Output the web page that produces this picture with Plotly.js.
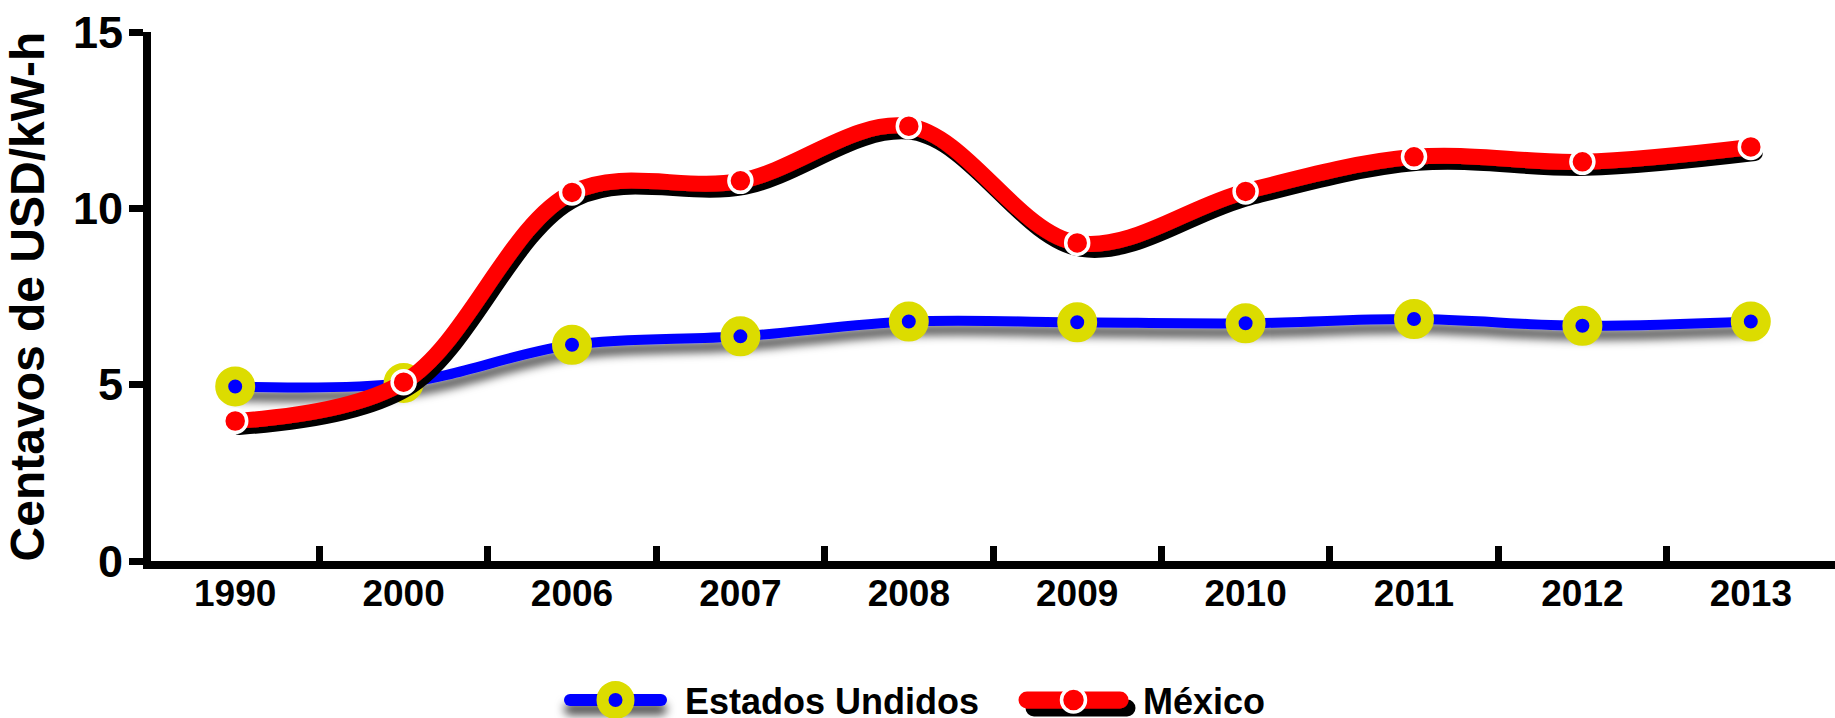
<!DOCTYPE html>
<html>
<head>
<meta charset="utf-8">
<script src="https://cdn.plot.ly/plotly-3.0.1.min.js"></script>
<style>
  html, body { margin: 0; padding: 0; background: #ffffff; }
  #chart { width: 1835px; height: 718px; }
</style>
</head>
<body>
<div id="chart"></div>
<script>
// ---- data ----
const years = ["1990", "2000", "2006", "2007", "2008", "2009", "2010", "2011", "2012", "2013"];
const estadosUnidos = [4.95, 5.05, 6.13, 6.37, 6.79, 6.77, 6.74, 6.86, 6.67, 6.79];
const mexico = [3.97, 5.07, 10.45, 10.78, 12.33, 9.02, 10.48, 11.46, 11.32, 11.74];
const seriesNames = ["Estados Undidos", "México"];
const yTicks = [0, 5, 10, 15];
const yTitle = "Centavos de USD/kW-h";

const FONT = "'Liberation Sans', Arial, Helvetica, sans-serif";

const traces = [
  {
    x: years, y: estadosUnidos, name: seriesNames[0],
    type: "scatter", mode: "lines+markers",
    line: { color: "#0000ff", width: 10, shape: "spline", smoothing: 1 },
    marker: { symbol: "circle", color: "#0000ff", size: 27, line: { color: "#dcdc00", width: 13 } },
    cliponaxis: false
  },
  {
    x: years, y: mexico, name: seriesNames[1],
    type: "scatter", mode: "lines+markers",
    line: { color: "#ff0000", width: 16, shape: "spline", smoothing: 1 },
    marker: { symbol: "circle", color: "#ff0000", size: 23, line: { color: "#ffffff", width: 3.5 } },
    cliponaxis: false
  }
];

const layout = {
  width: 1835, height: 718,
  paper_bgcolor: "#ffffff", plot_bgcolor: "#ffffff",
  margin: { l: 151, r: 0, t: 32, b: 157, pad: 0 },
  font: { family: FONT, color: "#000000" },
  showlegend: true,
  legend: {
    orientation: "h", xref: "container", yref: "container",
    x: 0.5, xanchor: "center", y: 0.025, yanchor: "middle",
    font: { family: FONT, size: 36, color: "#000000", weight: "bold" },
    itemwidth: 90, itemsizing: "trace", traceorder: "normal",
    entrywidth: 457, entrywidthmode: "pixels",
    bgcolor: "rgba(0,0,0,0)"
  },
  xaxis: {
    type: "category", range: [-0.5, 9.5], fixedrange: true,
    showline: true, linecolor: "#000000", linewidth: 8,
    ticks: "inside", tickson: "boundaries", ticklen: 15, tickwidth: 7, tickcolor: "#000000",
    showgrid: false, zeroline: false, ticklabelstandoff: -7,
    tickfont: { family: FONT, size: 37, color: "#000000", weight: "bold" }
  },
  yaxis: {
    range: [0, 15], fixedrange: true,
    tickvals: yTicks, ticktext: yTicks.map(String),
    showline: true, linecolor: "#000000", linewidth: 8,
    ticks: "outside", ticklen: 14, tickwidth: 7, tickcolor: "#000000",
    showgrid: false, zeroline: false, ticklabelstandoff: -3,
    tickfont: { family: FONT, size: 45, color: "#000000", weight: "bold" },
    title: { text: yTitle, standoff: 16, font: { family: FONT, size: 48, color: "#000000", weight: "bold" } }
  }
};

// legend item geometry (page pixels): line start, line length, marker radius/stroke, line width, text offset
const legendGeom = [
  { x0: 570, len: 91, r: 13, sw: 12, lw: 12, tx: 115 },
  { x0: 1027, len: 93, r: 12, sw: 3.5, lw: 17, tx: 116 }
];
const legendCenterY = 700;

const gd = document.getElementById("chart");
Plotly.newPlot(gd, traces, layout, { staticPlot: true, displayModeBar: false }).then(function () {
  const NS = "http://www.w3.org/2000/svg";
  const svg = gd.querySelector(".main-svg");
  const defs = document.createElementNS(NS, "defs");
  function makeFilter(id, dx, dy, blur, color, opacity) {
    const f = document.createElementNS(NS, "filter");
    f.setAttribute("id", id);
    f.setAttribute("filterUnits", "userSpaceOnUse");
    f.setAttribute("x", "-2000"); f.setAttribute("y", "-2000");
    f.setAttribute("width", "6000"); f.setAttribute("height", "4000");
    const s = document.createElementNS(NS, "feDropShadow");
    s.setAttribute("dx", dx); s.setAttribute("dy", dy);
    s.setAttribute("stdDeviation", blur);
    s.setAttribute("flood-color", color); s.setAttribute("flood-opacity", opacity);
    f.appendChild(s);
    defs.appendChild(f);
  }
  makeFilter("usShadow", 0, 9, 5, "#000000", 0.7);
  makeFilter("mxShadow", 4, 6, 0, "#000000", 1);
  makeFilter("mxShadowLeg", 7, 8, 0, "#000000", 1);
  svg.insertBefore(defs, svg.firstChild);

  const filters = ["url(#usShadow)", "url(#mxShadow)"];
  const legFilters = ["url(#usShadow)", "url(#mxShadowLeg)"];
  gd.querySelectorAll(".scatterlayer .trace").forEach(function (t, i) {
    t.querySelectorAll(".js-line").forEach(function (p) {
      p.setAttribute("filter", filters[i]);
      p.style.strokeLinecap = "round";
    });
  });

  function circlePath(r) {
    return "M" + r + ",0A" + r + "," + r + " 0 1,1 0,-" + r + "A" + r + "," + r + " 0 0,1 " + r + ",0Z";
  }
  const rect = svg.getBoundingClientRect();
  gd.querySelectorAll(".legend .traces").forEach(function (item, i) {
    const g = legendGeom[i];
    if (!g) return;
    const m = item.parentNode.getScreenCTM();
    const lx = (g.x0 + rect.left) - m.e;
    const ly = (legendCenterY + rect.top) - m.f;
    item.setAttribute("transform", "translate(" + lx + "," + ly + ")");
    item.querySelectorAll(".legendlines path").forEach(function (p) {
      p.setAttribute("d", "M0,0h" + g.len);
      p.setAttribute("filter", legFilters[i]);
      p.style.strokeLinecap = "round";
      p.style.strokeWidth = g.lw + "px";
    });
    item.querySelectorAll(".legendpoints path").forEach(function (p) {
      p.setAttribute("d", circlePath(g.r));
      p.setAttribute("transform", "translate(" + (g.len / 2) + ",0)");
      p.style.strokeWidth = g.sw + "px";
    });
    item.querySelectorAll(".legendtext").forEach(function (t) {
      t.setAttribute("x", g.tx);
      t.querySelectorAll("tspan").forEach(function (s) { if (s.hasAttribute("x")) s.setAttribute("x", g.tx); });
    });
  });

  // enlarge the legend's clip region and background so the repositioned items are fully inside
  const legend = gd.querySelector(".legend");
  if (legend) {
    let x0 = Infinity, y0 = Infinity, x1 = -Infinity, y1 = -Infinity;
    legend.querySelectorAll(".traces").forEach(function (it) {
      const b = it.getBoundingClientRect();
      x0 = Math.min(x0, b.left); y0 = Math.min(y0, b.top);
      x1 = Math.max(x1, b.right); y1 = Math.max(y1, b.bottom);
    });
    const bg = legend.querySelector("rect.bg");
    if (bg) {
      const lm = bg.parentNode.getScreenCTM();
      bg.setAttribute("x", x0 - lm.e - 12);
      bg.setAttribute("y", y0 - lm.f - 6);
      bg.setAttribute("width", x1 - x0 + 24);
      bg.setAttribute("height", y1 - y0 + 12);
    }
    const lm2 = legend.getScreenCTM();
    svg.querySelectorAll("clipPath").forEach(function (cp) {
      if ((cp.id || "").indexOf("legend") !== -1) {
        cp.querySelectorAll("rect").forEach(function (r) {
          r.setAttribute("x", x0 - lm2.e - 12);
          r.setAttribute("y", y0 - lm2.f - 6);
          r.setAttribute("width", x1 - x0 + 24);
          r.setAttribute("height", y1 - y0 + 12);
        });
      }
    });
  }
});
</script>
</body>
</html>
